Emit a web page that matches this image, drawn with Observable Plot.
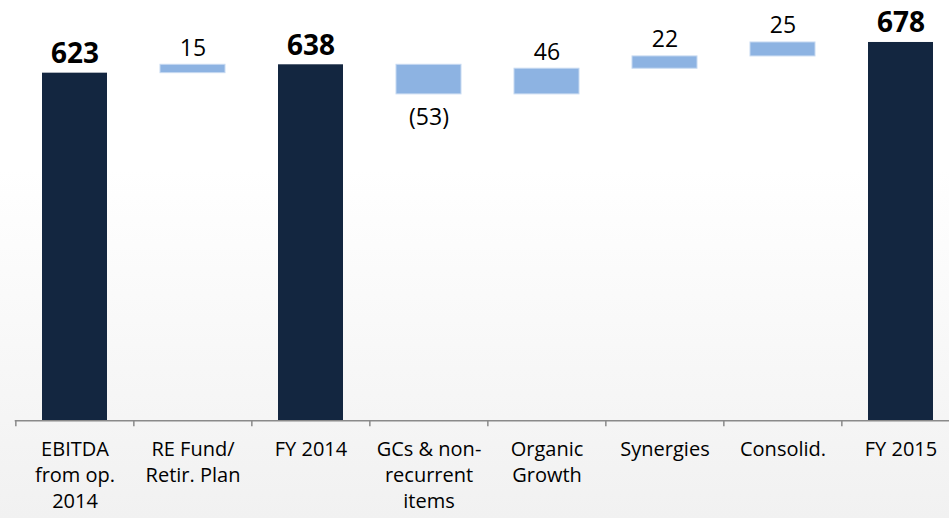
<!DOCTYPE html>
<html>
<head>
<meta charset="utf-8">
<script src="https://cdn.jsdelivr.net/npm/d3@7"></script>
<script src="https://cdn.jsdelivr.net/npm/@observablehq/plot@0.6"></script>
<style>
  html, body { margin: 0; padding: 0; }
  body { width: 949px; height: 518px; overflow: hidden;
         background: linear-gradient(to bottom, #ffffff 0px, #ffffff 170px, #f1f1f1 518px); }
  #chart svg { display: block; background: transparent; }
</style>
</head>
<body>
<div id="chart"></div>
<script>
const categories = [
  "EBITDA\nfrom op.\n2014",
  "RE Fund/\nRetir. Plan",
  "FY 2014",
  "GCs & non-\nrecurrent\nitems",
  "Organic\nGrowth",
  "Synergies",
  "Consolid.",
  "FY 2015"
];
const values = [623, 15, 638, -53, 46, 22, 25, 678];
const kinds = ["total", "delta", "total", "delta", "delta", "delta", "delta", "total"];
const valueLabels = ["623", "15", "638", "(53)", "46", "22", "25", "678"];

// build waterfall table from the arrays
let running = 0;
const data = categories.map((cat, i) => {
  let start, end;
  if (kinds[i] === "total") { start = 0; end = values[i]; running = values[i]; }
  else { start = running; end = running + values[i]; running = end; }
  return { cat, start, end, lo: Math.min(start, end), hi: Math.max(start, end),
           kind: kinds[i], value: values[i], label: valueLabels[i] };
});

const totals = data.filter(d => d.kind === "total");
const ups = data.filter(d => d.kind === "delta" && d.value >= 0);
const downs = data.filter(d => d.kind === "delta" && d.value < 0);

const stepPx = 118.3;
const font = "'Open Sans', sans-serif";

const chart = Plot.plot({
  width: 949,
  height: 518,
  marginTop: 0,
  marginBottom: 98,
  marginLeft: 14.7,
  marginRight: 0,
  style: { background: "transparent", fontFamily: font, color: "#000" },
  x: { domain: categories, range: [14.7, 961], paddingInner: 0.45, paddingOuter: 0.225, axis: null },
  y: { domain: [0, 750], range: [420.3, 1.8], axis: null },
  marks: [
    Plot.barY(totals, { x: "cat", y1: "start", y2: "end", fill: "#132640" }),
    Plot.barY(data.filter(d => d.kind === "delta"), { x: "cat", y1: "start", y2: "end", fill: "#8db3e2", stroke: "#c6d9f1", strokeWidth: 1 }),
    Plot.ruleY([0], { stroke: "#8a8a8a", strokeWidth: 1.5 }),
    Plot.ruleX(categories, { x: d => d, dx: -stepPx / 2, y1: 0, y2: 0, insetBottom: -6, stroke: "#8a8a8a", strokeWidth: 1.5 }),
    Plot.text(totals, { x: "cat", y: "end", text: "label", dy: -10, lineAnchor: "bottom", fontSize: 28, fontWeight: "bold", fill: "#000" }),
    Plot.text(ups, { x: "cat", y: "hi", text: "label", dy: -9, lineAnchor: "bottom", fontSize: 23, fill: "#000" }),
    Plot.text(downs, { x: "cat", y: "lo", text: "label", dy: 14, lineAnchor: "top", fontSize: 23, fill: "#000" }),
    Plot.text(categories, { x: d => d, text: d => d, frameAnchor: "bottom", dy: 17, lineAnchor: "top", lineHeight: 1.3, fontSize: 20, fill: "#000" })
  ]
});
document.getElementById("chart").appendChild(chart);
</script>
</body>
</html>
